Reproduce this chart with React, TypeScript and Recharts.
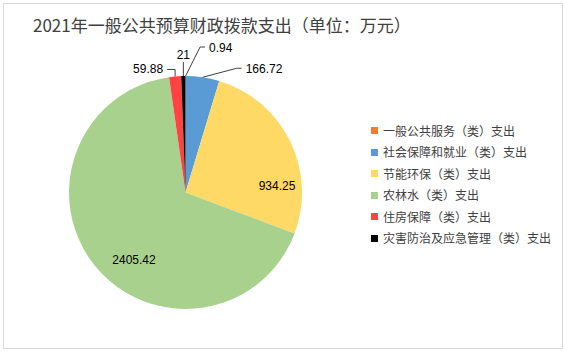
import React from 'react';
import { PieChart, Pie, Cell, Legend } from 'recharts';

const categories = [
  '一般公共服务（类）支出',
  '社会保障和就业（类）支出',
  '节能环保（类）支出',
  '农林水（类）支出',
  '住房保障（类）支出',
  '灾害防治及应急管理（类）支出',
];
const values = [0.94, 166.72, 934.25, 2405.42, 59.88, 21];
const labelTexts = ['0.94', '166.72', '934.25', '2405.42', '59.88', '21'];
const colors = ['#ED7D31', '#5B9BD5', '#FFD966', '#A9D18E', '#FF4343', '#000000'];
const title = '2021年一般公共预算财政拨款支出（单位：万元）';

const data = categories.map((name, i) => ({ name, value: values[i], label: labelTexts[i] }));

// label layout (style, not data): inside labels as offsets from center; outside labels as leader geometry
type Layout =
  | { kind: 'inside'; dx: number; dy: number }
  | { kind: 'outside'; ex: number; ey: number; hx: number; anchor: 'start' | 'end' | 'middle'; tx: number; ty: number };
const labelLayout: Layout[] = [
  { kind: 'outside', ex: 14.5, ey: -29, hx: 5, anchor: 'start', tx: 4, ty: 1 },
  { kind: 'outside', ex: 34, ey: -9, hx: 5, anchor: 'start', tx: 4, ty: 1 },
  { kind: 'inside', dx: 91.5, dy: -6.5 },
  { kind: 'inside', dx: -51.5, dy: 67.5 },
  { kind: 'outside', ex: 0, ey: -7, hx: -8, anchor: 'end', tx: -4, ty: 0 },
  { kind: 'outside', ex: 0, ey: -14, hx: 0, anchor: 'middle', tx: 0, ty: -7.5 },
];

const RAD = Math.PI / 180;
const labelFont = '"Liberation Sans", Arial, sans-serif';

const renderLabel = (props: any) => {
  const { cx, cy, midAngle, outerRadius, index } = props;
  const lay = labelLayout[index];
  const text = labelTexts[index];
  if (lay.kind === 'inside') {
    return (
      <text key={`l${index}`} x={cx + lay.dx} y={cy + lay.dy} textAnchor="middle" dominantBaseline="central"
        fontSize={12} fontFamily={labelFont} fill="#000">{text}</text>
    );
  }
  const sx = cx + outerRadius * Math.cos(-midAngle * RAD);
  const sy = cy + outerRadius * Math.sin(-midAngle * RAD);
  const ex = sx + lay.ex;
  const ey = sy + lay.ey;
  const hx = ex + lay.hx;
  return (
    <g key={`l${index}`}>
      <polyline points={`${sx},${sy} ${ex},${ey} ${hx},${ey}`} fill="none" stroke="#404040" strokeWidth={1} />
      <text x={hx + lay.tx} y={ey + lay.ty} textAnchor={lay.anchor} dominantBaseline="central"
        fontSize={12} fontFamily={labelFont} fill="#000">{text}</text>
    </g>
  );
};

const renderLegend = (props: any) => {
  const payload = [...(props.payload || [])].sort(
    (a: any, b: any) => categories.indexOf(a.value) - categories.indexOf(b.value)
  );
  return (
    <div style={{ fontFamily: '"Noto Sans CJK SC", sans-serif', fontSize: 12, color: '#404040' }}>
      {payload.map((p: any, i: number) => (
        <div key={i} style={{ display: 'flex', alignItems: 'center', height: 21.5 }}>
          <span style={{ display: 'inline-block', width: 7, height: 7, background: p.color, marginRight: 5 }} />
          <span style={{ lineHeight: '12px', whiteSpace: 'nowrap' }}>{p.value}</span>
        </div>
      ))}
    </div>
  );
};

export default function App() {
  return (
    <div style={{ position: 'absolute', left: 0, top: 0, width: 567, height: 354, background: '#fff' }}>
      <div style={{ position: 'absolute', left: 3, top: 3, width: 560, height: 346, boxSizing: 'border-box', border: '1px solid #d9d9d9' }} />
      <div style={{ position: 'absolute', left: 33, top: 14, fontFamily: '"Noto Sans CJK SC", sans-serif', fontSize: 17, lineHeight: '22px', color: '#404040', whiteSpace: 'nowrap' }}>
        {title}
      </div>
      <div style={{ position: 'absolute', left: 0, top: 0 }}>
        <PieChart width={567} height={354} margin={{ top: 0, right: 0, bottom: 0, left: 0 }}>
          <Pie
            data={data}
            dataKey="value"
            nameKey="name"
            cx={185.5}
            cy={192.5}
            outerRadius={116.5}
            startAngle={90}
            endAngle={-270}
            stroke="none"
            label={renderLabel}
            labelLine={false}
            isAnimationActive={false}
          >
            {data.map((d, i) => (
              <Cell key={d.name} fill={colors[i]} />
            ))}
          </Pie>
          <Legend
            layout="vertical"
            align="right"
            verticalAlign="top"
            itemSorter={null as any}
            content={renderLegend}
            wrapperStyle={{ position: 'absolute', left: 371, top: 120, width: 190 }}
          />
        </PieChart>
      </div>
    </div>
  );
}
